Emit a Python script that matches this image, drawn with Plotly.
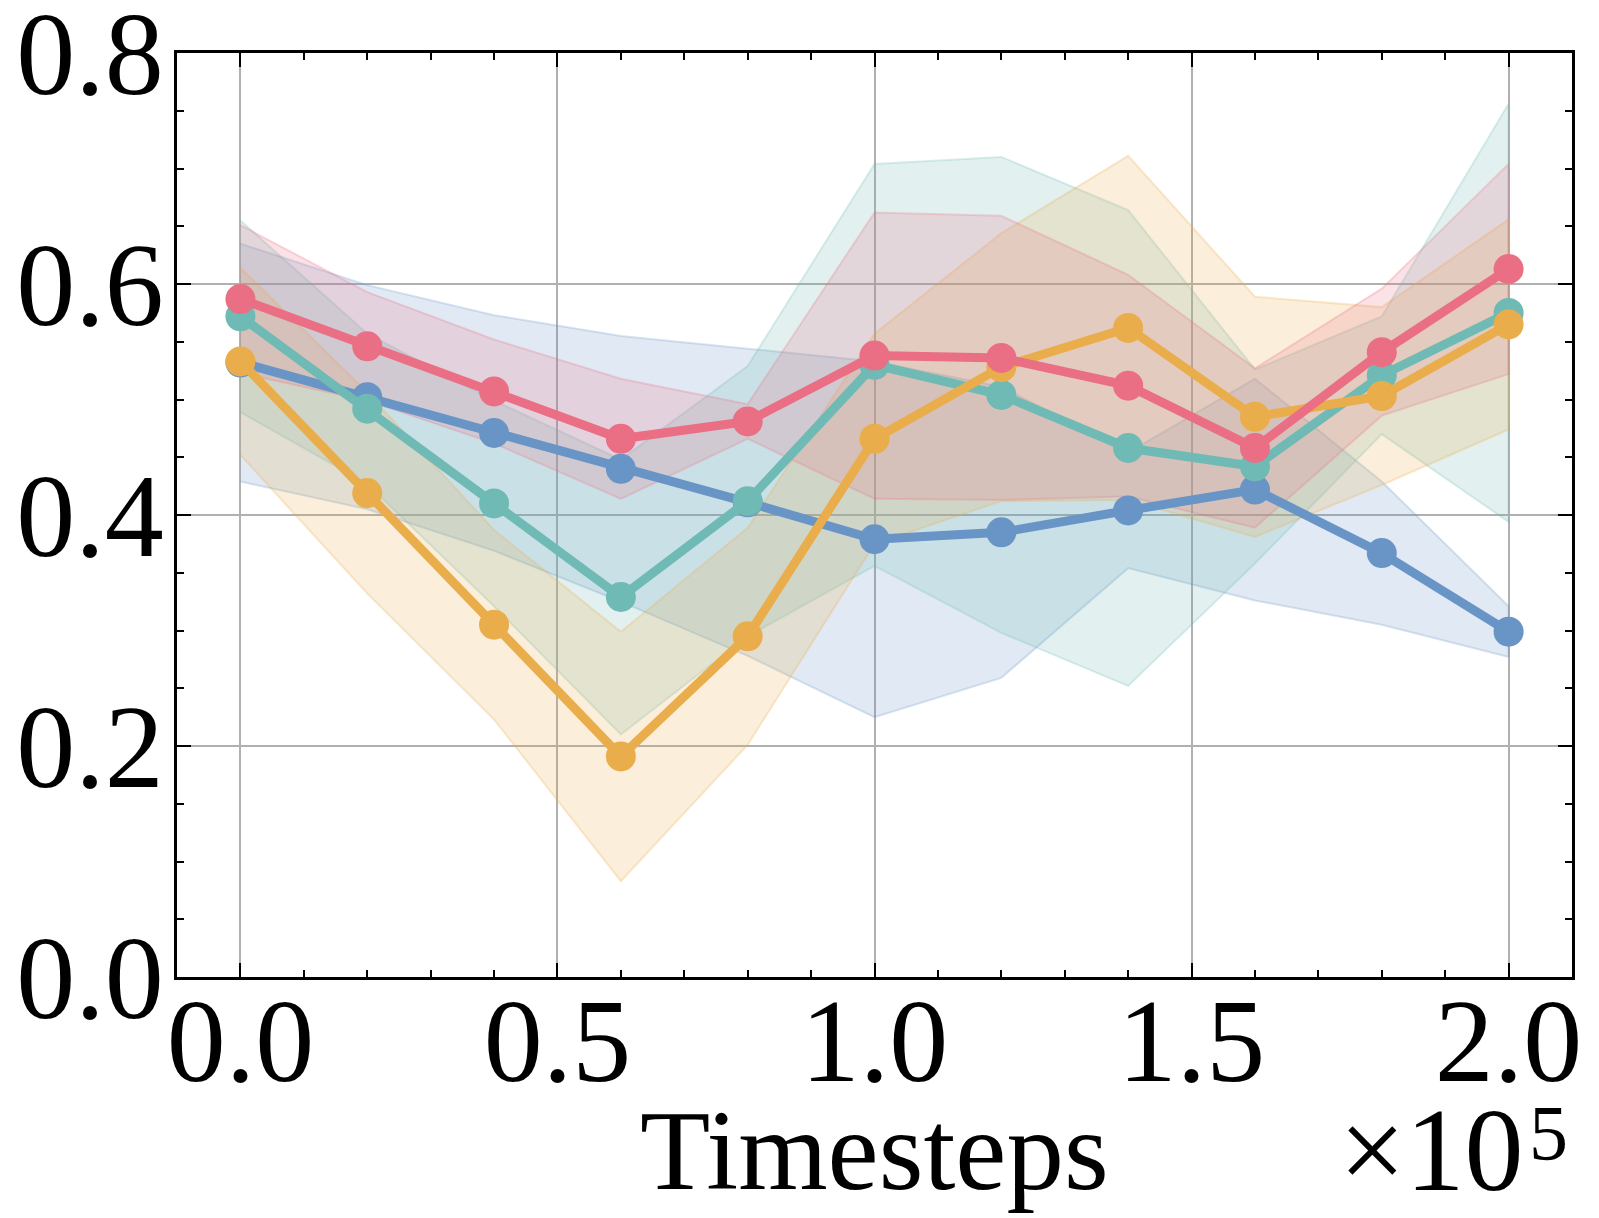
import plotly.graph_objects as go

# ---- data ----
steps = [0.0, 0.2, 0.4, 0.6, 0.8, 1.0, 1.2, 1.4, 1.6, 1.8, 2.0]  # x 1e5

blue_mean = [0.532, 0.502, 0.471, 0.440, 0.411, 0.379, 0.385, 0.404, 0.422, 0.367, 0.299]
blue_std = [0.103, 0.097, 0.102, 0.115, 0.133, 0.154, 0.126, 0.050, 0.096, 0.062, 0.022]

teal_mean = [0.572, 0.492, 0.410, 0.329, 0.412, 0.530, 0.504, 0.458, 0.442, 0.521, 0.575]
teal_std = [0.083, 0.065, 0.089, 0.119, 0.117, 0.174, 0.206, 0.206, 0.084, 0.051, 0.181]

orange_mean = [0.533, 0.419, 0.305, 0.191, 0.295, 0.466, 0.528, 0.562, 0.485, 0.503, 0.565]
orange_std = [0.081, 0.087, 0.082, 0.108, 0.094, 0.091, 0.116, 0.149, 0.104, 0.077, 0.091]

red_mean = [0.587, 0.546, 0.507, 0.466, 0.481, 0.538, 0.536, 0.512, 0.458, 0.541, 0.613]
red_std = [0.064, 0.047, 0.045, 0.052, 0.015, 0.124, 0.123, 0.096, 0.069, 0.055, 0.091]

x_ticks = [0.0, 0.5, 1.0, 1.5, 2.0]
y_ticks = [0.0, 0.2, 0.4, 0.6, 0.8]

series = [
    (blue_mean, blue_std, (104, 148, 198)),
    (teal_mean, teal_std, (111, 186, 180)),
    (orange_mean, orange_std, (234, 173, 76)),
    (red_mean, red_std, (234, 110, 132)),
]

FONT = "Liberation Serif"
FS = 118
fig = go.Figure()

# bands first
for mean, std, (r, g, b) in series:
    upper = [m + s for m, s in zip(mean, std)]
    lower = [m - s for m, s in zip(mean, std)]
    fig.add_trace(go.Scatter(
        x=steps + steps[::-1], y=upper + lower[::-1],
        fill="toself", fillcolor=f"rgba({r},{g},{b},0.2)",
        line=dict(color=f"rgba({r},{g},{b},0.25)", width=2),
        mode="lines", hoverinfo="skip", showlegend=False))

# lines
for mean, std, (r, g, b) in series:
    fig.add_trace(go.Scatter(
        x=steps, y=mean, mode="lines+markers",
        line=dict(color=f"rgb({r},{g},{b})", width=9),
        marker=dict(color=f"rgb({r},{g},{b})", size=30),
        showlegend=False))

axis_common = dict(
    showline=True, linecolor="black", linewidth=2.5, mirror="allticks",
    ticks="inside", ticklen=14, tickwidth=2, tickcolor="black",
    showgrid=True, gridcolor="#b0b0b0", gridwidth=1.5,
    zeroline=False, automargin=False, ticklabeloverflow="allow",
    tickfont=dict(family=FONT, size=FS, color="black"),
)

fig.update_xaxes(
    range=[-0.1, 2.1], tickvals=x_ticks, ticktext=[f"{v:.1f}" for v in x_ticks],
    minor=dict(ticks="inside", ticklen=7, tickwidth=1.5, tickcolor="black", dtick=0.1, tick0=0, showgrid=False),
    ticklabelstandoff=-40,
    **axis_common)
fig.update_yaxes(
    range=[0, 0.8], tickvals=y_ticks, ticktext=[f"{v:.1f}" for v in y_ticks],
    minor=dict(ticks="inside", ticklen=7, tickwidth=1.5, tickcolor="black", dtick=0.05, tick0=0, showgrid=False),
    ticklabelstandoff=-13,
    **axis_common)

fig.add_annotation(
    text="Timesteps", xref="paper", yref="paper", x=0.5, y=0.0,
    xanchor="center", yanchor="top", xshift=0, yshift=-108, showarrow=False,
    font=dict(family=FONT, size=115, color="black"))
fig.add_annotation(
    text="×10", xref="paper", yref="paper", x=1.0, y=0.0,
    xanchor="right", yanchor="top", xshift=-46, yshift=-106, showarrow=False,
    font=dict(family=FONT, size=FS, color="black"))
fig.add_annotation(
    text="5", xref="paper", yref="paper", x=1.0, y=0.0,
    xanchor="left", yanchor="top", xshift=-45, yshift=-110, showarrow=False,
    font=dict(family=FONT, size=78, color="black"))

fig.update_layout(
    width=1599, height=1218,
    margin=dict(l=177, r=27, t=53, b=241),
    plot_bgcolor="white", paper_bgcolor="white",
)

fig.write_html("out.html")
